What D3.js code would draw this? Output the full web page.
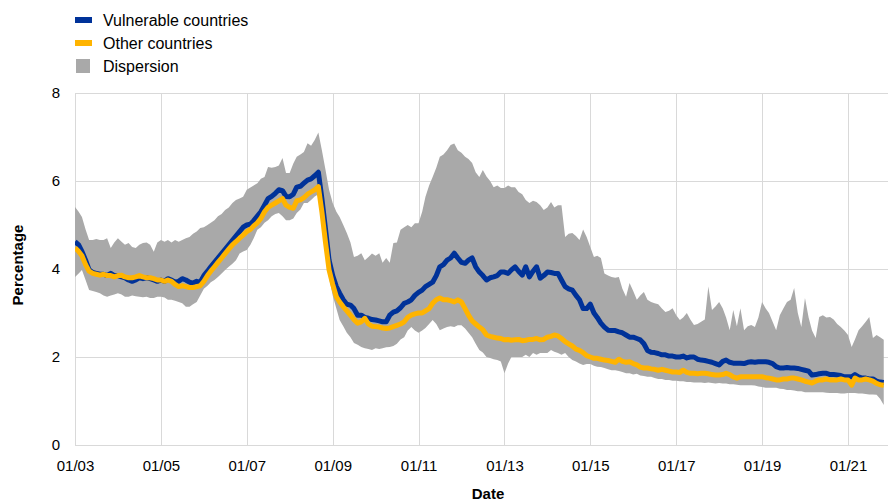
<!DOCTYPE html>
<html>
<head>
<meta charset="utf-8">
<script src="https://cdn.jsdelivr.net/npm/d3@7"></script>
<style>
  html, body { margin: 0; padding: 0; background: #fff; }
  svg { display: block; font-family: "Liberation Sans", Arial, sans-serif; }
</style>
</head>
<body>
<svg id="chart" width="888" height="502"></svg>
<script>
// Monthly observations starting January 2003
const startYear = 2003;

const vulnerable = [
  4.62,4.55,4.4,4.2,3.98,3.92,3.9,3.88,3.88,3.85,3.9,3.85,      // 2003
  3.85,3.82,3.8,3.75,3.72,3.75,3.8,3.78,3.8,3.78,3.75,3.72,     // 2004
  3.75,3.72,3.78,3.75,3.7,3.72,3.78,3.75,3.7,3.68,3.72,3.7,     // 2005
  3.85,3.95,4.05,4.15,4.25,4.35,4.45,4.55,4.65,4.75,4.85,4.95,  // 2006
  5.0,5.02,5.1,5.2,5.3,5.45,5.6,5.65,5.72,5.8,5.78,5.65,        // 2007
  5.64,5.7,5.86,5.88,5.95,6.02,6.05,6.12,6.2,5.6,4.9,4.2,       // 2008
  3.85,3.6,3.45,3.3,3.2,3.18,3.1,2.95,2.95,2.9,2.88,2.85,       // 2009
  2.84,2.82,2.8,2.8,2.95,3.02,3.05,3.12,3.22,3.25,3.3,3.4,      // 2010
  3.47,3.52,3.6,3.65,3.7,3.85,4.05,4.1,4.2,4.25,4.36,4.25,      // 2011
  4.15,4.13,4.2,4.25,4.05,3.93,3.85,3.75,3.8,3.82,3.85,3.93,    // 2012
  3.93,3.9,3.98,4.05,3.95,3.86,4.05,3.82,3.95,4.05,3.79,3.85,   // 2013
  3.93,3.92,3.9,3.9,3.75,3.6,3.55,3.52,3.4,3.3,3.1,3.1,         // 2014
  3.2,3.0,2.9,2.77,2.68,2.61,2.6,2.6,2.57,2.55,2.5,2.45,        // 2015
  2.45,2.42,2.39,2.3,2.15,2.11,2.1,2.08,2.05,2.05,2.02,2.02,    // 2016
  2.0,2.0,2.02,1.98,2.0,2.0,1.95,1.93,1.92,1.9,1.88,1.85,       // 2017
  1.82,1.9,1.93,1.88,1.86,1.86,1.86,1.85,1.88,1.89,1.88,1.89,   // 2018
  1.89,1.89,1.88,1.85,1.78,1.75,1.75,1.76,1.75,1.75,1.74,1.72,  // 2019
  1.7,1.68,1.59,1.6,1.62,1.63,1.63,1.6,1.6,1.59,1.58,1.55,      // 2020
  1.55,1.55,1.6,1.55,1.52,1.52,1.5,1.5,1.45,1.43,1.42           // 2021
];

const other = [
  4.48,4.4,4.3,4.1,3.95,3.9,3.88,3.86,3.88,3.85,3.85,3.82,      // 2003
  3.85,3.86,3.82,3.8,3.8,3.82,3.85,3.82,3.8,3.8,3.78,3.75,      // 2004
  3.75,3.72,3.75,3.72,3.65,3.6,3.62,3.6,3.58,3.58,3.6,3.62,     // 2005
  3.72,3.85,3.95,4.05,4.15,4.25,4.35,4.45,4.55,4.62,4.7,4.77,   // 2006
  4.85,4.9,4.98,5.05,5.15,5.3,5.4,5.45,5.5,5.55,5.6,5.45,       // 2007
  5.4,5.38,5.55,5.57,5.62,5.7,5.75,5.8,5.87,5.3,4.6,3.98,       // 2008
  3.65,3.37,3.25,3.14,3.05,2.95,2.85,2.77,2.8,2.88,2.75,2.7,    // 2009
  2.69,2.68,2.66,2.65,2.66,2.69,2.72,2.75,2.8,2.9,2.95,2.98,    // 2010
  3.0,3.0,3.05,3.1,3.22,3.3,3.34,3.3,3.3,3.28,3.25,3.3,         // 2011
  3.25,3.1,2.95,2.82,2.75,2.68,2.62,2.5,2.47,2.45,2.43,2.42,    // 2012
  2.39,2.4,2.38,2.39,2.4,2.37,2.38,2.4,2.4,2.42,2.39,2.4,       // 2013
  2.45,2.47,2.5,2.48,2.42,2.35,2.3,2.25,2.18,2.15,2.1,2.03,     // 2014
  2.0,1.97,1.97,1.95,1.93,1.92,1.9,1.88,1.95,1.9,1.88,1.89,     // 2015
  1.85,1.82,1.77,1.75,1.75,1.73,1.72,1.7,1.72,1.7,1.68,1.66,    // 2016
  1.66,1.65,1.7,1.65,1.63,1.63,1.62,1.63,1.63,1.62,1.6,1.59,    // 2017
  1.59,1.6,1.63,1.6,1.55,1.52,1.55,1.55,1.55,1.55,1.55,1.55,    // 2018
  1.55,1.53,1.52,1.5,1.48,1.48,1.5,1.5,1.52,1.52,1.5,1.48,      // 2019
  1.45,1.43,1.41,1.45,1.48,1.48,1.5,1.48,1.48,1.48,1.5,1.48,    // 2020
  1.48,1.36,1.52,1.48,1.48,1.5,1.48,1.45,1.4,1.37,1.36          // 2021
];

const dispersionHigh = [
  5.41,5.3,5.18,4.9,4.66,4.66,4.68,4.66,4.66,4.7,4.48,4.6,      // 2003
  4.7,4.62,4.55,4.59,4.5,4.48,4.55,4.59,4.6,4.55,4.39,4.6,      // 2004
  4.66,4.62,4.66,4.6,4.66,4.62,4.66,4.7,4.73,4.8,4.85,4.93,     // 2005
  4.95,5.0,5.05,5.11,5.2,5.25,5.34,5.4,5.5,5.57,5.6,5.64,       // 2006
  5.8,5.85,5.9,5.95,6.05,6.09,6.32,6.3,6.32,6.35,6.52,6.18,     // 2007
  6.18,6.4,6.55,6.6,6.66,6.86,6.8,6.93,7.1,6.7,6.25,5.8,        // 2008
  5.5,5.3,5.18,5.0,4.82,4.6,4.27,4.3,4.36,4.2,4.27,4.35,        // 2009
  4.3,4.36,4.14,4.25,4.14,4.59,4.6,4.89,4.95,5.0,4.95,5.04,     // 2010
  5.04,5.3,5.64,5.9,6.09,6.3,6.55,6.6,6.7,6.82,6.85,6.7,        // 2011
  6.64,6.55,6.5,6.41,6.2,6.09,6.25,6.1,6.0,5.86,5.9,5.84,       // 2012
  5.84,5.9,5.86,5.86,5.75,5.7,5.57,5.5,5.55,5.52,5.45,5.34,     // 2013
  5.4,5.52,5.4,5.45,5.45,4.73,4.8,4.82,4.75,4.66,4.9,4.73,      // 2014
  4.5,4.27,4.3,4.25,3.9,3.85,3.82,3.8,3.82,3.55,3.37,3.68,      // 2015
  3.5,3.3,3.4,3.48,3.3,3.25,3.22,3.2,3.1,3.02,3.05,3.11,        // 2016
  2.95,2.84,2.9,3.0,2.85,2.73,2.75,2.8,2.85,3.6,3.07,3.15,      // 2017
  3.25,3.1,2.9,2.61,3.07,2.7,3.11,2.61,2.7,2.73,2.68,2.9,       // 2018
  3.25,3.1,3.0,2.8,2.61,2.95,3.1,3.25,3.3,3.57,3.0,2.68,        // 2019
  3.34,2.9,2.6,2.43,2.91,2.95,2.9,2.91,2.85,2.75,2.68,2.6,      // 2020
  2.5,2.23,2.4,2.61,2.7,2.8,2.91,2.43,2.5,2.45,2.39             // 2021
];

const dispersionLow = [
  3.82,3.9,3.98,3.75,3.52,3.5,3.48,3.45,3.4,3.37,3.4,3.42,      // 2003
  3.45,3.42,3.37,3.37,3.4,3.38,3.37,3.36,3.37,3.34,3.34,3.37,   // 2004
  3.37,3.35,3.3,3.3,3.28,3.25,3.22,3.14,3.14,3.2,3.25,3.4,      // 2005
  3.55,3.62,3.7,3.75,3.82,3.9,3.98,4.05,4.12,4.2,4.35,4.4,      // 2006
  4.43,4.55,4.7,4.89,4.95,5.05,5.11,5.2,5.25,5.27,5.2,5.11,     // 2007
  5.11,5.15,5.27,5.35,5.5,5.5,5.57,5.65,5.7,5.2,4.36,3.8,       // 2008
  3.4,3.1,2.84,2.7,2.55,2.45,2.32,2.28,2.23,2.2,2.18,2.16,      // 2009
  2.2,2.18,2.2,2.22,2.23,2.25,2.3,2.4,2.45,2.6,2.68,2.6,        // 2010
  2.55,2.6,2.66,2.75,2.84,2.75,2.61,2.65,2.68,2.7,2.68,2.72,    // 2011
  2.72,2.65,2.55,2.45,2.3,2.16,2.1,2.0,1.98,1.95,1.93,1.9,      // 2012
  1.63,1.85,2.0,2.0,2.0,2.0,2.05,2.0,2.09,2.05,2.09,2.09,       // 2013
  2.09,2.16,2.12,2.09,2.05,2.09,2.0,1.93,1.9,1.85,1.82,1.84,    // 2014
  1.84,1.8,1.78,1.77,1.75,1.72,1.7,1.7,1.68,1.66,1.63,1.63,     // 2015
  1.6,1.62,1.58,1.57,1.55,1.55,1.52,1.5,1.5,1.48,1.48,1.46,     // 2016
  1.46,1.45,1.45,1.43,1.43,1.42,1.42,1.42,1.41,1.42,1.41,1.4,   // 2017
  1.41,1.4,1.4,1.38,1.38,1.37,1.36,1.36,1.36,1.36,1.35,1.33,    // 2018
  1.32,1.3,1.3,1.3,1.3,1.28,1.27,1.25,1.25,1.24,1.22,1.22,      // 2019
  1.2,1.2,1.2,1.2,1.2,1.2,1.19,1.18,1.18,1.18,1.17,1.17,        // 2020
  1.18,1.18,1.18,1.17,1.17,1.16,1.15,1.15,1.14,1.05,0.91        // 2021
];

const yTicks = [0, 2, 4, 6, 8];
const xTickYears = [2003, 2005, 2007, 2009, 2011, 2013, 2015, 2017, 2019, 2021];
const legendLabels = ["Vulnerable countries", "Other countries", "Dispersion"];
const xTitle = "Date";
const yTitle = "Percentage";

// ---------- rendering ----------
const colors = { vuln: "#003299", other: "#FFB400", band: "#a9a9a9", grid: "#d9d9d9" };
const svg = d3.select("#chart");
const W = 888, H = 502;
const plotLeft = 75, plotTop = 93, plotBottom = 445;

const dates = vulnerable.map((_, i) => new Date(startYear, i, 1));
const data = dates.map((d, i) => ({
  date: d, v: vulnerable[i], o: other[i], lo: dispersionLow[i], hi: dispersionHigh[i]
}));

// 86 px per two years
const x = d3.scaleTime()
  .domain([new Date(2003, 0, 1), new Date(2021, 0, 1)])
  .range([plotLeft, 848]);
const y = d3.scaleLinear().domain([0, 8]).range([plotBottom, plotTop]);

svg.append("defs").append("clipPath").attr("id", "clip")
  .append("rect").attr("x", plotLeft).attr("y", 0).attr("width", W - plotLeft).attr("height", H);

// gridlines
const grid = svg.append("g");
grid.selectAll("line.h").data(yTicks).join("line").attr("class", "h")
  .attr("x1", plotLeft).attr("x2", W)
  .attr("y1", d => Math.round(y(d)) + 0.5).attr("y2", d => Math.round(y(d)) + 0.5)
  .attr("stroke", colors.grid).attr("stroke-width", 1);
grid.selectAll("line.v").data(xTickYears).join("line").attr("class", "v")
  .attr("x1", d => Math.round(x(new Date(d, 0, 1))) + 0.5)
  .attr("x2", d => Math.round(x(new Date(d, 0, 1))) + 0.5)
  .attr("y1", plotTop).attr("y2", plotBottom)
  .attr("stroke", colors.grid).attr("stroke-width", 1);

const plot = svg.append("g").attr("clip-path", "url(#clip)");

const area = d3.area().x(d => x(d.date)).y0(d => y(d.lo)).y1(d => y(d.hi));
plot.append("path").datum(data).attr("d", area).attr("fill", colors.band);

const lineV = d3.line().x(d => x(d.date)).y(d => y(d.v));
const lineO = d3.line().x(d => x(d.date)).y(d => y(d.o));
plot.append("path").datum(data).attr("d", lineV)
  .attr("fill", "none").attr("stroke", colors.vuln).attr("stroke-width", 5)
  .attr("stroke-linejoin", "round");
plot.append("path").datum(data).attr("d", lineO)
  .attr("fill", "none").attr("stroke", colors.other).attr("stroke-width", 5)
  .attr("stroke-linejoin", "round");

// axes labels
const yAxis = d3.axisLeft(y).tickValues(yTicks).tickSize(0).tickPadding(0).tickFormat(d3.format("d"));
const gy = svg.append("g").attr("transform", `translate(${plotLeft - 15},0)`).call(yAxis);
gy.select(".domain").remove();
gy.selectAll("text").attr("font-size", 15).attr("fill", "#000")
  .attr("font-family", "Liberation Sans, Arial, sans-serif");

const xAxis = d3.axisBottom(x)
  .tickValues(xTickYears.map(yy => new Date(yy, 0, 1)))
  .tickSize(0).tickPadding(0).tickFormat(d3.timeFormat("%m/%y"));
const gx = svg.append("g").attr("transform", `translate(0,${plotBottom + 15})`).call(xAxis);
gx.select(".domain").remove();
gx.selectAll("text").attr("font-size", 15).attr("fill", "#000")
  .attr("font-family", "Liberation Sans, Arial, sans-serif");

svg.append("text").attr("x", 488).attr("y", 499).attr("text-anchor", "middle")
  .attr("font-size", 15).attr("font-weight", "bold").text(xTitle);
svg.append("text").attr("transform", "translate(23,265) rotate(-90)")
  .attr("text-anchor", "middle").attr("font-size", 15).attr("font-weight", "bold").text(yTitle);

// legend
const leg = svg.append("g");
const rows = [20, 43, 66];
leg.append("rect").attr("x", 75).attr("y", rows[0] - 3).attr("width", 17).attr("height", 6).attr("fill", colors.vuln);
leg.append("rect").attr("x", 75).attr("y", rows[1] - 3).attr("width", 17).attr("height", 6).attr("fill", colors.other);
leg.append("rect").attr("x", 76).attr("y", rows[2] - 7).attr("width", 14).attr("height", 14).attr("fill", colors.band);
leg.selectAll("text").data(legendLabels).join("text")
  .attr("x", 103).attr("y", (d, i) => rows[i]).attr("dy", "0.35em")
  .attr("font-size", 16).attr("fill", "#000").text(d => d);
</script>
</body>
</html>
